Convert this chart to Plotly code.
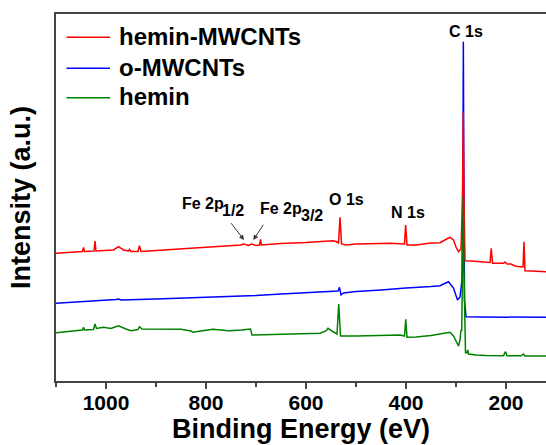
import plotly.graph_objects as go

# ---- data (binding energy in eV, intensity in arbitrary units) ----
names = ["hemin-MWCNTs", "o-MWCNTs", "hemin"]
colors = ["#ff0000", "#0000ff", "#008000"]

red_x = [1100, 1060, 1047, 1045, 1043, 1024, 1022, 1020, 1000, 985, 975, 965, 955, 953, 950,
         936, 933, 930, 900, 850, 800, 752, 730, 725, 715, 709, 700, 693, 691, 689, 650, 600,
         572, 546, 540, 535, 532, 529, 520, 500, 450, 432, 403, 400.7, 398, 380, 350, 332, 315,
         312, 305, 300, 295, 290, 287, 285.5, 284, 282, 270, 250, 239, 232, 229.5, 227, 215,
         205, 202, 198, 190, 182, 176, 166, 164, 162, 150, 120]
red_y = [127.7, 129.5, 129.5, 133.7, 129.5, 130, 140, 130, 130.5, 131, 134.3, 131, 130, 131.7, 129.5,
         129.5, 135.3, 129.5, 130.5, 132, 133.5, 135, 136, 137, 135.5, 137, 135.5, 136, 141.7, 136, 137.5, 138.5,
         139.3, 140.3, 139.5, 138, 163.7, 137, 136, 137, 137.5, 137.7, 137, 156, 136, 136, 138, 138.3, 143,
         143.7, 141, 134, 129.3, 132, 181, 269.3, 181, 120.3, 120, 119, 118.3, 118.5, 132.7, 117.7, 117.7,
         117.7, 119, 117, 117, 115, 114.5, 114, 139.3, 110.3, 110, 109.3]

blue_x = [1100, 1050, 1000, 980, 975, 970, 900, 800, 752, 700, 650, 600, 560, 540, 536, 533, 530,
          525, 500, 450, 412, 400, 350, 332, 325, 315, 305, 297, 292, 288, 286, 285.3, 284.5, 283,
          280, 250, 200, 120]
blue_y = [77.7, 79, 80.5, 81.5, 82, 81, 82, 83.5, 84.3, 85.5, 87, 88, 89, 89.3, 90, 93.7, 86,
          88, 89.5, 91, 92.7, 93, 94.5, 95.3, 97, 99.3, 93, 81, 84, 101, 231, 339.3, 231, 81,
          64.3, 64, 63.7, 63.7]

green_x = [1100, 1060, 1047, 1045, 1043, 1025, 1022, 1019, 1005, 990, 975, 960, 950, 936, 933, 928,
           900, 850, 830, 826, 810, 786, 760, 752, 730, 715, 711, 708, 680, 620, 572, 560, 556, 545,
           538, 534.5, 531, 500, 412, 403, 400.5, 398, 380, 350, 320, 312, 305, 298, 295, 292, 290,
           288.5, 287, 285.5, 284.5, 282.5, 281, 278, 276.5, 275, 260, 240, 205, 201, 198, 170, 165,
           162, 120]
green_y = [48.3, 50.5, 51, 53.7, 51, 51.5, 57, 52.5, 53.7, 52.5, 55.3, 52, 50.3, 51.5, 54.3, 52,
           51.7, 51.7, 50, 48.7, 50, 51.7, 50.5, 50.3, 51, 51.7, 52, 46, 46.5, 47.2, 47.7, 50, 52.7, 49,
           47, 77, 45, 45, 46, 45, 61.7, 43.7, 44, 45.5, 47.5, 48.7, 45, 37, 35, 41, 51,
           50, 131, 185, 121, 36, 28.3, 28.3, 31, 27, 26, 25.5, 25.3, 29.3, 25.3, 25.2, 27,
           25, 25]

peak_labels = ["C 1s", "O 1s", "N 1s"]
peak_label_x = [280, 520, 396]
peak_label_y = [350, 181.5, 169]

fe_labels = ["Fe 2p", "Fe 2p"]
fe_label_x = [852, 697]
fe_label_y = [177.3, 172.3]
fe_subs = ["1/2", "3/2"]
fe_sub_x = [772, 615]
fe_sub_y = [170.2, 165.7]

x_tickvals = [1000, 800, 600, 400, 200]

FONT = "Arial, Liberation Sans, sans-serif"
AX = "#444444"

series = [(blue_x, blue_y, 1), (red_x, red_y, 0), (green_x, green_y, 2)]

fig = go.Figure()
for xs, ys, i in series:
    fig.add_trace(go.Scatter(x=xs, y=ys, mode="lines", name=names[i],
                             line=dict(color=colors[i], width=1.5), showlegend=False))

# custom legend (line samples + labels)
leg_y = [343.7, 312.7, 283.3]
for i in range(3):
    fig.add_shape(type="line", xref="x", yref="y", x0=1079, x1=992, y0=leg_y[i], y1=leg_y[i],
                  line=dict(color=colors[i], width=1.5))
    fig.add_annotation(x=978, y=leg_y[i] + 1, xref="x", yref="y", text=names[i], showarrow=False,
                       xanchor="left", yanchor="middle",
                       font=dict(family=FONT, size=24, color="black", weight="bold"))

# peak labels
for t, px, py in zip(peak_labels, peak_label_x, peak_label_y):
    fig.add_annotation(x=px, y=py, text=t, showarrow=False, xanchor="center", yanchor="middle",
                       font=dict(family=FONT, size=16, color="black", weight="bold"))

# Fe 2p labels with full-size subscripts placed lower
for t, px, py in zip(fe_labels, fe_label_x, fe_label_y):
    fig.add_annotation(x=px, y=py, text=t, showarrow=False, xanchor="left", yanchor="middle",
                       font=dict(family=FONT, size=16, color="black", weight="bold"))
for s, px, py in zip(fe_subs, fe_sub_x, fe_sub_y):
    fig.add_annotation(x=px, y=py, text=s, showarrow=False, xanchor="left", yanchor="middle",
                       font=dict(family=FONT, size=16, color="black", weight="bold"))

# arrows
for (hx, hy, tx, ty) in [(724, 141, 752, 159.3), (705.4, 141, 683.4, 157.7)]:
    fig.add_annotation(x=hx, y=hy, ax=tx, ay=ty, xref="x", yref="y", axref="x", ayref="y",
                       text="", showarrow=True, arrowhead=2, arrowsize=1, arrowwidth=1,
                       arrowcolor="#333333")

fig.update_layout(
    width=546, height=445,
    margin=dict(l=56, r=0, t=14, b=64, autoexpand=False),
    plot_bgcolor="white", paper_bgcolor="white",
    showlegend=False,
    font=dict(family=FONT, color="black"),
)
fig.update_xaxes(
    range=[1100, 120], autorange=False, automargin=False,
    tickvals=x_tickvals, ticktext=[str(v) for v in x_tickvals],
    ticks="outside", ticklen=6, tickwidth=1.5, tickcolor=AX,
    minor=dict(ticks="outside", ticklen=4, tickwidth=1.5, tickcolor=AX, dtick=100, tick0=0),
    showline=True, linecolor=AX, linewidth=1.5, mirror=True,
    showgrid=False, zeroline=False,
    ticklabelstandoff=-4,
    tickfont=dict(family=FONT, size=21, color="black", weight="bold"),
    title=dict(text="Binding Energy (eV)", standoff=2,
               font=dict(family=FONT, size=27, color="black", weight="bold")),
)
fig.update_yaxes(
    range=[0, 367], autorange=False, automargin=False,
    showticklabels=False, ticks="",
    showline=True, linecolor=AX, linewidth=1.5,
    showgrid=False, zeroline=False,
    title=dict(text="Intensity (a.u.)", standoff=16,
               font=dict(family=FONT, size=27, color="black", weight="bold")),
)

fig.write_html("out.html", config={"displayModeBar": False},
               post_script="document.body.style.margin='0';document.body.style.overflow='hidden';")
